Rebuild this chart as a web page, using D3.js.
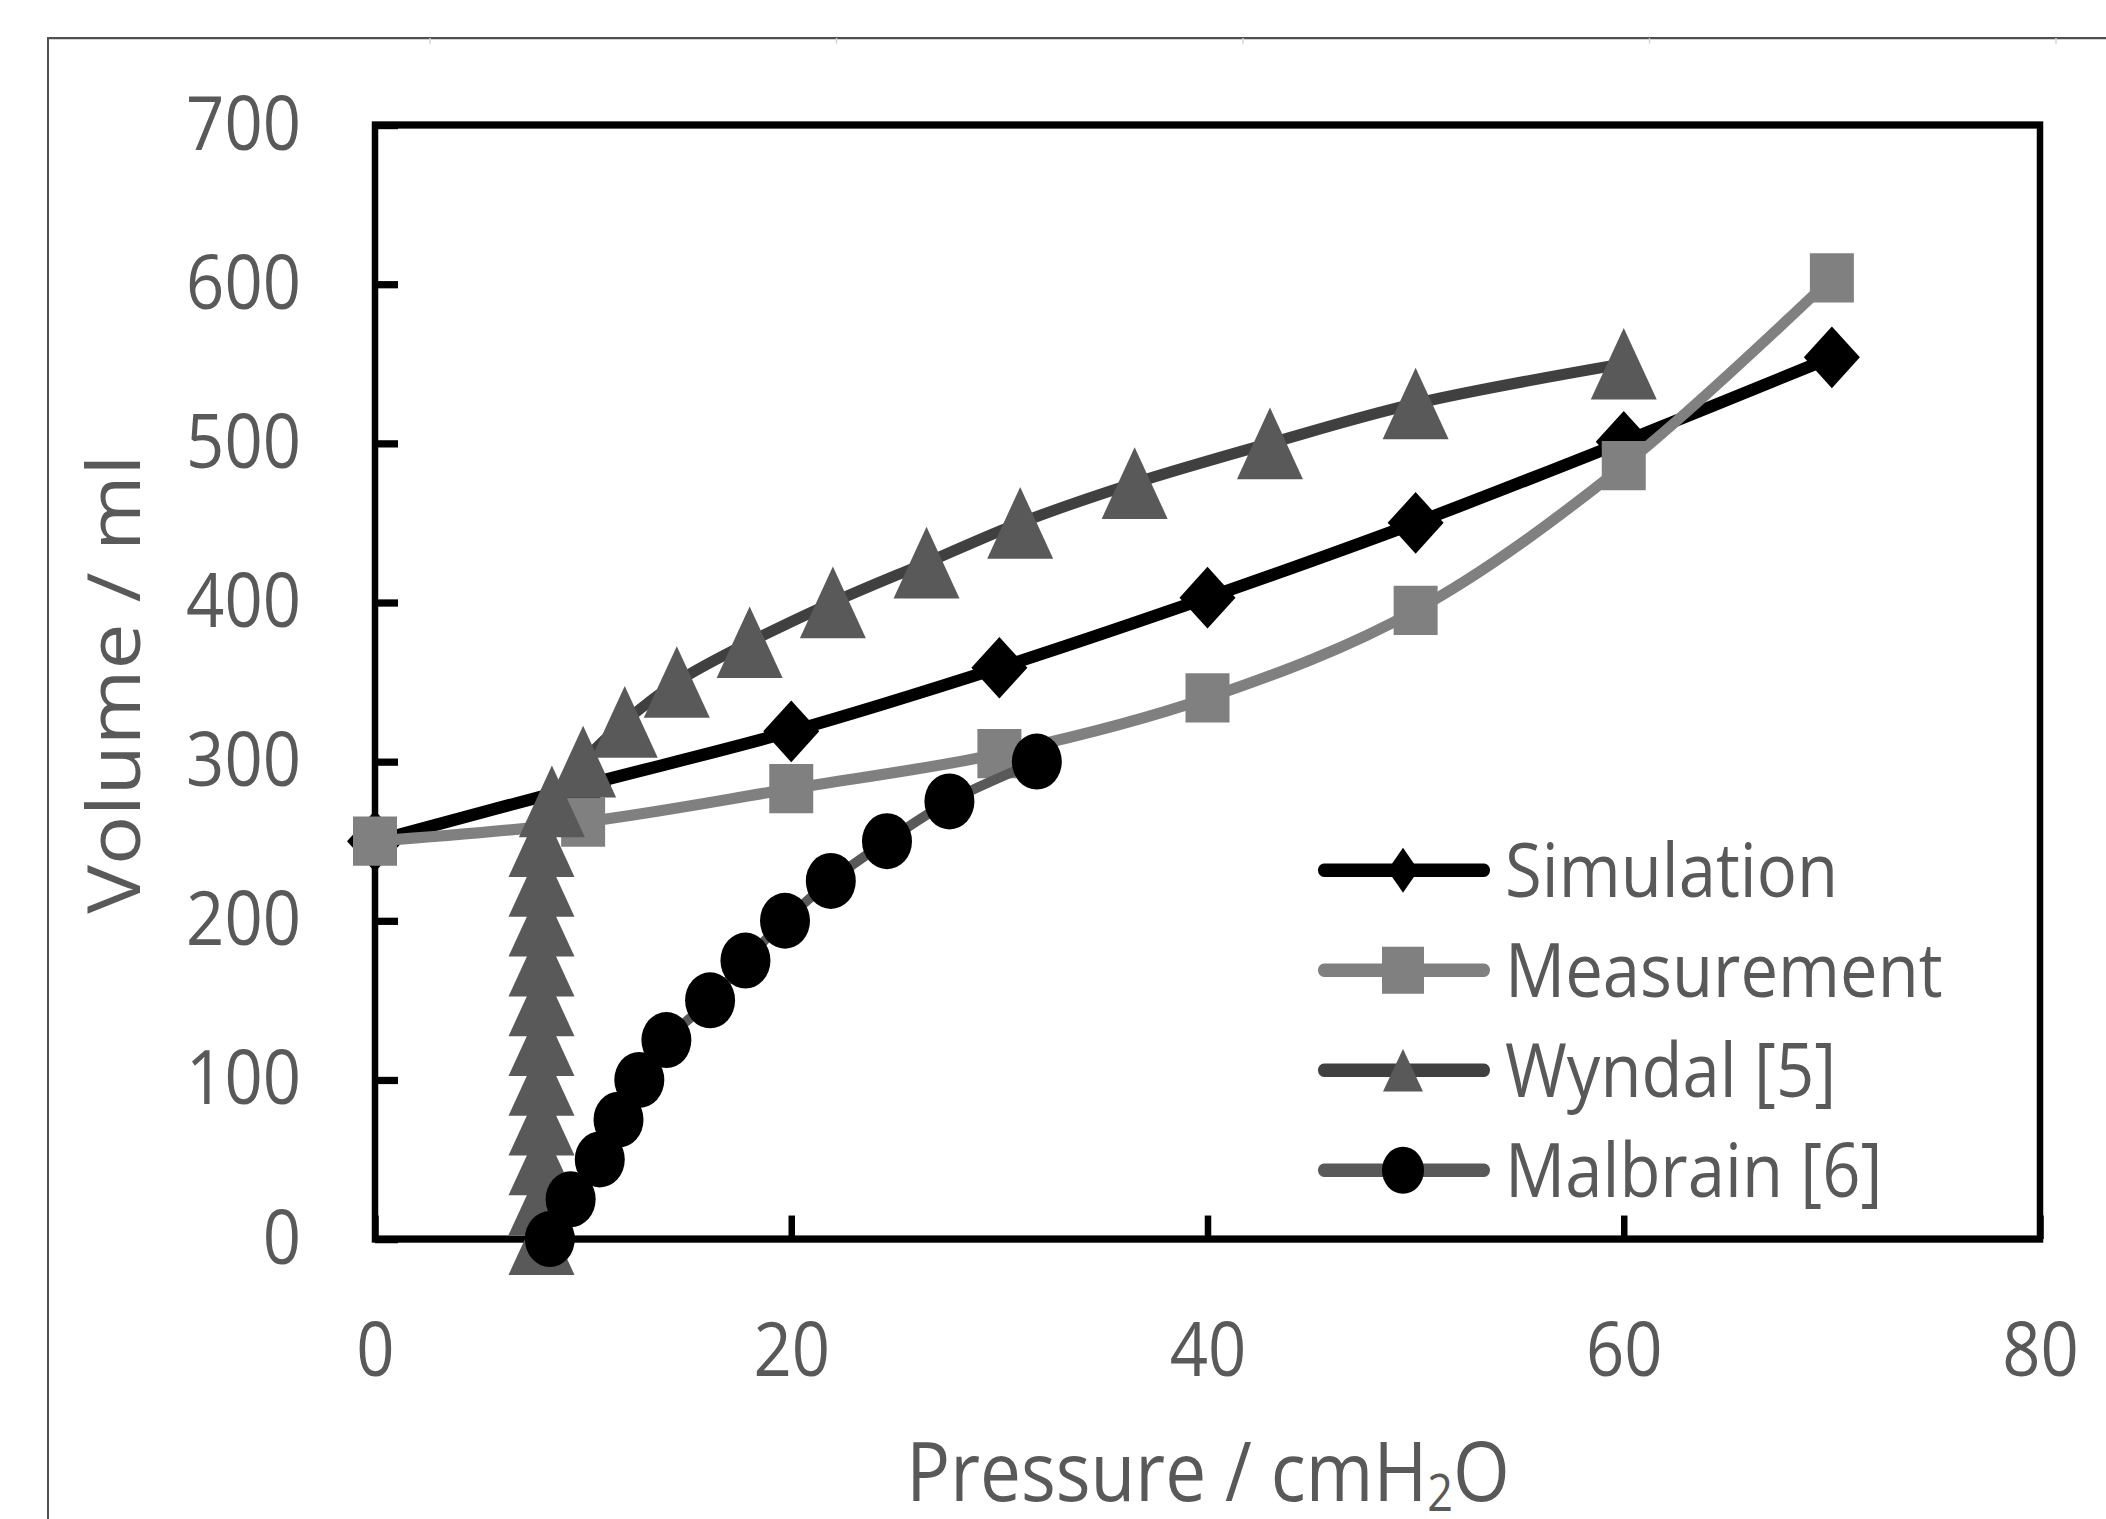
<!DOCTYPE html>
<html>
<head>
<meta charset="utf-8">
<script src="https://cdn.jsdelivr.net/npm/d3@7"></script>
<style>
  html, body { margin: 0; padding: 0; background: #fff; }
  svg { display: block; }
  text { font-family: "Open Sans", sans-serif; fill: #595959; }
</style>
</head>
<body>
<svg id="chart"></svg>
<script>
//values (pressure in cmH2O, volume in ml)
const simP = [0, 10, 20, 30, 40, 50, 60, 70];
const simV = [250, 285, 319, 359, 403, 450, 501, 554];

const measP = [0, 10, 20, 30, 40, 50, 60, 70];
const measV = [250, 262, 283, 305, 340, 395, 486, 604];

const wynP = [8, 8, 8, 8, 8, 8, 8, 8, 8, 8, 8, 8.5, 10, 12, 14.5, 18, 22, 26.5, 31, 36.5, 43, 50, 60];
const wynV = [0, 25, 50, 75, 100, 125, 150, 175, 200, 225, 250, 275, 300, 325, 350, 375, 400, 425, 450, 475, 500, 525, 550];

const malP = [8.4, 9.4, 10.8, 11.7, 12.7, 14, 16.1, 17.8, 19.7, 21.9, 24.6, 27.6, 31.8];
const malV = [0, 25, 50, 75, 100, 125, 150, 175, 200, 225, 250, 275, 300];

const seriesNames = ["Simulation", "Measurement", "Wyndal [5]", "Malbrain [6]"];
const xTicks = [0, 20, 40, 60, 80];
const yTicks = [0, 100, 200, 300, 400, 500, 600, 700];

//the source figure is a bit taller than wide, so draw in a squashed
//coordinate space and let the viewBox stretch it vertically
const W = 2106, H = 1519, stretch = 1.12;
const IH = H / stretch;

const svg = d3.select("#chart")
  .attr("width", W)
  .attr("height", H)
  .attr("viewBox", [0, 0, W, IH])
  .attr("preserveAspectRatio", "none");

const x = d3.scaleLinear().domain([0, 80]).range([375, 2040]);
const y = d3.scaleLinear().domain([0, 700]).range([1106.3, 111.6]);

//outer figure frame (cropped)
svg.append("path")
  .attr("d", `M48,${IH} L48,34 L${W},34`)
  .attr("fill", "none")
  .attr("stroke", "#505050")
  .attr("stroke-width", 2);
svg.append("g")
  .selectAll("line")
  .data(d3.range(430, W, 406.5))
  .join("line")
  .attr("x1", d => d).attr("x2", d => d)
  .attr("y1", 34).attr("y2", 39)
  .attr("stroke", "#d4d4d4")
  .attr("stroke-width", 1.5);

//axes with inward ticks
const xAxis = svg.append("g")
  .attr("transform", `translate(0,${y(0)})`)
  .call(d3.axisBottom(x).tickValues(xTicks).tickSize(-21).tickPadding(75));
const yAxis = svg.append("g")
  .attr("transform", `translate(${x(0)},0)`)
  .call(d3.axisLeft(y).tickValues(yTicks).tickSize(-23).tickPadding(74));

for (const g of [xAxis, yAxis]) {
  g.select(".domain").remove();
  g.attr("font-family", null).attr("font-size", null);
  g.selectAll(".tick line").attr("stroke", "#000").attr("stroke-width", 6.5);
  g.selectAll(".tick text").style("font-size", "67px").attr("fill", "#595959");
}

//plot frame
svg.append("rect")
  .attr("x", x(0))
  .attr("y", y(700))
  .attr("width", x(80) - x(0))
  .attr("height", y(0) - y(700))
  .attr("fill", "none")
  .attr("stroke", "#000")
  .attr("stroke-width", 6.5);

//marker shapes
const diamond = (w, h) => ({
  draw(ctx) {
    ctx.moveTo(0, -h / 2);
    ctx.lineTo(w / 2, 0);
    ctx.lineTo(0, h / 2);
    ctx.lineTo(-w / 2, 0);
    ctx.closePath();
  }
});
const triangle = (w, h) => ({
  draw(ctx) {
    ctx.moveTo(0, -h / 2);
    ctx.lineTo(w / 2, h / 2);
    ctx.lineTo(-w / 2, h / 2);
    ctx.closePath();
  }
});

const series = [
  { name: seriesNames[0], P: simP, V: simV, line: "#000000", fill: "#000000", width: 11,
    mark: d3.symbol(diamond(56, 55)), legendMark: d3.symbol(diamond(31, 40)) },
  { name: seriesNames[1], P: measP, V: measV, line: "#808080", fill: "#808080", width: 10,
    mark: d3.symbol(d3.symbolSquare, 44 * 44), legendMark: d3.symbol(d3.symbolSquare, 42 * 42) },
  { name: seriesNames[2], P: wynP, V: wynV, line: "#404040", fill: "#595959", width: 10,
    mark: d3.symbol(triangle(66, 64)), legendMark: d3.symbol(triangle(40, 38)) },
  { name: seriesNames[3], P: malP, V: malV, line: "#595959", fill: "#000000", width: 9,
    mark: d3.symbol(d3.symbolCircle, Math.PI * 25 * 25), legendMark: d3.symbol(d3.symbolCircle, Math.PI * 21 * 21) }
];

const line = d3.line()
  .x(d => x(d[0]))
  .y(d => y(d[1]))
  .curve(d3.curveCatmullRom.alpha(0.5));

series.forEach(s => {
  const pts = d3.zip(s.P, s.V);
  const g = svg.append("g");
  g.append("path")
    .attr("d", line(pts))
    .attr("fill", "none")
    .attr("stroke", s.line)
    .attr("stroke-width", s.width)
    .attr("stroke-linejoin", "round");
  g.selectAll(".mark")
    .data(pts)
    .join("path")
    .attr("class", "mark")
    .attr("transform", d => `translate(${x(d[0])},${y(d[1])})`)
    .attr("d", s.mark())
    .attr("fill", s.fill);
});

//legend
const legend = svg.append("g")
  .selectAll("g")
  .data(series)
  .join("g")
  .attr("transform", (d, i) => `translate(0,${777 + i * 89.3})`);
legend.append("line")
  .attr("x1", 1324).attr("x2", 1484)
  .attr("stroke", d => d.line)
  .attr("stroke-width", 12)
  .attr("stroke-linecap", "round");
legend.append("path")
  .attr("transform", "translate(1403,0)")
  .attr("d", d => d.legendMark())
  .attr("fill", d => d.fill);
legend.append("text")
  .attr("x", 1505)
  .attr("dy", "0.35em")
  .style("font-size", "67px")
  .text(d => d.name);

//axis titles
svg.append("text")
  .attr("transform", `translate(140,611) rotate(-90)`)
  .attr("text-anchor", "middle")
  .style("font-size", "73px")
  .text("Volume / ml");

const xt = svg.append("text")
  .attr("x", 1208)
  .attr("y", 1340)
  .attr("text-anchor", "middle")
  .style("font-size", "73px");
xt.append("tspan").text("Pressure / cmH");
xt.append("tspan").attr("dy", 9).style("font-size", "45px").text("2");
xt.append("tspan").attr("dy", -9).text("O");
</script>
</body>
</html>
